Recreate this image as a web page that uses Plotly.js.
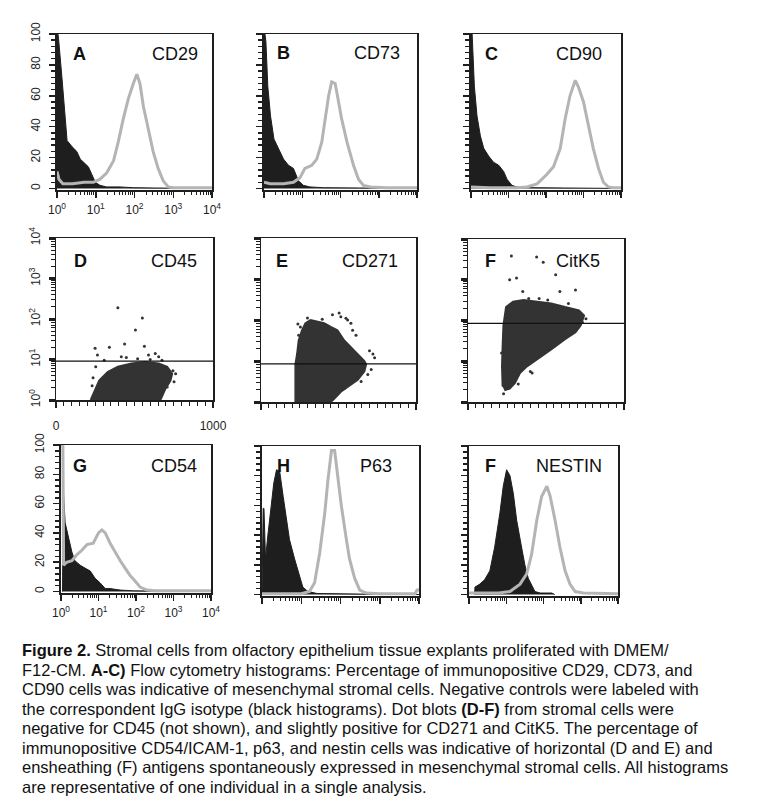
<!DOCTYPE html>
<html><head><meta charset="utf-8">
<script src="https://cdn.plot.ly/plotly-3.0.1.min.js"></script>
<style>html,body{margin:0;padding:0;background:#fff}#chart{width:760px;height:812px}</style>
</head><body><div id="chart"></div>
<script>
// ---------- DATA ----------
// Histograms: x = log10(fluorescence), y = % of max
const A_isoLog = [0, 0.04, 0.13, 0.21, 0.26, 0.39, 0.51, 0.6, 0.73, 0.81, 0.9, 0.99, 1.11, 1.28, 1.6, 1.97, 2.5, 4];
const A_isoPct = [105, 97, 71, 45, 31, 27, 24, 19, 16, 14, 9, 4, 2, 1, 1, 0.5, 0.3, 0];
const A_posLog = [0, 0.05, 0.15, 0.4, 0.7, 0.94, 1.11, 1.28, 1.46, 1.58, 1.71, 1.84, 1.97, 2.06, 2.14, 2.23, 2.36, 2.48, 2.61, 2.74, 2.87, 3.0, 3.5, 4];
const A_posPct = [11, 6, 3, 3, 4, 4, 6, 10, 18, 30, 45, 58, 68, 74, 68, 53, 38, 24, 13, 5, 1, 0.5, 0.5, 0.5];

const B_isoLog = [0, 0.05, 0.1, 0.17, 0.26, 0.38, 0.51, 0.64, 0.77, 0.9, 1.03, 1.2, 1.55, 2.5, 4];
const B_isoPct = [105, 95, 66, 47, 32, 26, 19, 15, 13, 5, 2, 1, 0.5, 0.3, 0];
const B_posLog = [0, 0.16, 0.51, 0.77, 0.94, 1.07, 1.25, 1.38, 1.51, 1.6, 1.69, 1.77, 1.86, 1.92, 2.03, 2.17, 2.34, 2.47, 2.6, 2.78, 3.2, 4];
const B_posPct = [4, 3, 3, 4, 7, 13, 15, 19, 30, 45, 60, 69, 68, 60, 45, 30, 15, 6, 2, 1, 0.5, 0.5];

const C_isoLog = [0, 0.03, 0.09, 0.16, 0.25, 0.34, 0.47, 0.6, 0.74, 0.87, 0.96, 1.09, 1.22, 1.66, 2.5, 4];
const C_isoPct = [105, 100, 66, 47, 34, 26, 21, 17, 15, 11, 6, 2, 1, 0.5, 0.3, 0];
const C_posLog = [0, 0.5, 1.22, 1.49, 1.76, 2.02, 2.2, 2.38, 2.51, 2.64, 2.78, 2.86, 3.0, 3.13, 3.26, 3.4, 3.53, 3.66, 3.8, 4];
const C_posPct = [1, 0.5, 0.5, 1, 3, 9, 14, 26, 45, 60, 70, 66, 56, 41, 26, 13, 4, 1, 0.5, 0.5];

const G_isoLog = [0.04, 0.06, 0.11, 0.2, 0.29, 0.37, 0.51, 0.64, 0.78, 0.91, 1.04, 1.18, 1.31, 1.58, 1.93, 2.5, 4];
const G_isoPct = [0, 70, 47, 36, 27, 21, 18, 16, 14, 9, 6, 2, 2, 1, 0.5, 0.3, 0];
const G_posLog = [0, 0.05, 0.07, 0.15, 0.29, 0.42, 0.55, 0.69, 0.86, 1.0, 1.09, 1.18, 1.31, 1.44, 1.58, 1.71, 1.84, 1.98, 2.11, 2.29, 2.5, 4];
const G_posPct = [100, 100, 18, 20, 21, 25, 28, 32, 33, 40, 42, 40, 33, 27, 21, 16, 11, 7, 3, 1, 0.5, 0.5];

const H_isoLog = [0, 0.03, 0.05, 0.09, 0.15, 0.24, 0.3, 0.37, 0.45, 0.54, 0.62, 0.7, 0.83, 0.96, 1.04, 1.17, 1.4, 2.5, 4];
const H_isoPct = [0, 58, 58, 24, 40, 62, 75, 84, 83, 66, 51, 37, 24, 13, 5, 2, 0.7, 0.3, 0];
const H_posLog = [0, 1.0, 1.21, 1.34, 1.47, 1.6, 1.68, 1.77, 1.85, 1.94, 2.02, 2.15, 2.23, 2.36, 2.49, 2.66, 3.0, 3.9, 3.95, 4];
const H_posPct = [0.5, 0.5, 2, 8, 28, 55, 77, 97, 97, 77, 60, 37, 24, 11, 3, 1, 0.5, 0.5, 3, 3];

const N_isoLog = [0.15, 0.16, 0.29, 0.42, 0.56, 0.69, 0.83, 0.92, 1.01, 1.1, 1.19, 1.28, 1.41, 1.5, 1.59, 1.68, 1.77, 1.91, 2.22, 2.3];
const N_isoPct = [0, 5, 7, 10, 16, 32, 55, 73, 84, 80, 68, 50, 32, 20, 11, 6, 2, 1, 1, 0];
const N_posLog = [0, 0.8, 1.1, 1.37, 1.55, 1.68, 1.82, 1.95, 2.09, 2.18, 2.31, 2.44, 2.58, 2.71, 2.85, 3.07, 4];
const N_posPct = [1, 1, 2, 7, 14, 27, 50, 66, 73, 66, 50, 32, 16, 7, 2, 1, 0.5];

// Dot plots: x = linear channel (0-1000), y = log10(fluorescence)
const D_cloudX = [221, 242, 275, 329, 394, 481, 567, 654, 708, 740, 729, 697, 665];
const D_cloudLog = [0, 0.19, 0.48, 0.69, 0.82, 0.9, 0.94, 0.9, 0.82, 0.65, 0.48, 0.28, 0];
const D_dotX = [394, 550, 506, 340, 249, 437, 563, 264, 307, 416, 448, 589, 632, 654, 762, 719, 675, 253, 708, 675, 230, 236, 745, 752, 520, 600];
const D_dotLog = [2.275, 2.025, 1.73, 1.3, 1.275, 1.38, 1.33, 1.11, 0.98, 1.07, 1.05, 1.11, 1.15, 1.07, 0.65, 0.57, 0.98, 0.82, 0.32, 0.15, 0.35, 0.55, 0.72, 0.45, 1.02, 1.0];
const D_gate = 9.1;

const E_cloudX = [222, 222, 233, 243, 265, 287, 320, 363, 407, 450, 493, 537, 580, 624, 667, 678, 667, 624, 580, 515, 472, 450];
const E_cloudLog = [0, 0.92, 1.17, 1.5, 1.75, 1.92, 2.0, 1.96, 1.92, 1.83, 1.75, 1.5, 1.33, 1.17, 1.0, 0.92, 0.75, 0.54, 0.42, 0.25, 0.08, 0];
const E_dotX = [504, 461, 254, 243, 559, 591, 613, 700, 722, 733, 711, 689, 646, 537, 428, 450, 548, 580, 515, 238, 300, 395];
const E_dotLog = [2.17, 2.125, 1.83, 1.625, 2.0, 1.75, 1.625, 1.25, 1.17, 1.08, 0.79, 0.67, 0.5, 0.33, 0.04, 0.125, 2.04, 1.92, 2.08, 1.9, 2.05, 2.02];
const E_gate = 8.5;

const F_cloudX = [222, 218, 222, 227, 244, 289, 356, 444, 533, 622, 711, 744, 722, 689, 622, 533, 444, 378, 333, 300, 267, 233];
const F_cloudLog = [0.375, 0.875, 1.375, 1.875, 2.33, 2.46, 2.5, 2.46, 2.42, 2.33, 2.25, 2.125, 1.875, 1.71, 1.54, 1.29, 1.04, 0.875, 0.71, 0.46, 0.33, 0.29];
const F_dotX = [278, 440, 482, 267, 311, 562, 351, 589, 689, 389, 456, 511, 644, 756, 733, 256, 322, 400, 411, 233, 244, 228, 215];
const F_dotLog = [3.58, 3.56, 3.43, 3.0, 3.04, 3.125, 2.71, 2.71, 2.75, 2.54, 2.54, 2.5, 2.42, 2.04, 1.96, 0.33, 0.44, 0.75, 0.71, 0.46, 0.375, 0.2, 1.2];
const F_gate = 85;

const panelLetters = ['A', 'B', 'C', 'D', 'E', 'F', 'G', 'H', 'F'];
const panelNames = ['CD29', 'CD73', 'CD90', 'CD45', 'CD271', 'CitK5', 'CD54', 'P63', 'NESTIN'];

const decadeVals = [1, 10, 100, 1000, 10000];
const decadeText = ['10<sup>0</sup>', '10<sup>1</sup>', '10<sup>2</sup>', '10<sup>3</sup>', '10<sup>4</sup>'];
const pctTicks = [0, 20, 40, 60, 80, 100];
const linTicks = [0, 1000];
const linText = ['0', '1000'];

const captionLines = [
  '<b>Figure 2.</b> Stromal cells from olfactory epithelium tissue explants proliferated with DMEM/',
  'F12-CM. <b>A-C)</b> Flow cytometry histograms: Percentage of immunopositive CD29, CD73, and',
  'CD90 cells was indicative of mesenchymal stromal cells. Negative controls were labeled with',
  'the correspondent IgG isotype (black histograms). Dot blots <b>(D-F)</b> from stromal cells were',
  'negative for CD45 (not shown), and slightly positive for CD271 and CitK5. The percentage of',
  'immunopositive CD54/ICAM-1, p63, and nestin cells was indicative of horizontal (D and E) and',
  'ensheathing (F) antigens spontaneously expressed in mesenchymal stromal cells. All histograms',
  'are representative of one individual in a single analysis.'
];

// ---------- LAYOUT GEOMETRY (pixels) ----------
const W = 760, Hh = 812;
// [left, right, top, bottom]
const boxes = [
  [57, 212, 34, 190], [264, 417, 34, 190], [471, 621, 34, 190],
  [56, 213, 238, 400], [261, 416, 238, 402], [468, 624, 239, 402],
  [61, 211, 445, 593], [262, 419, 446, 596], [469, 618, 446, 596]
];
const letterPos = [[71, 54], [275, 53], [483, 54], [72, 261], [274, 261], [483, 261], [71, 466], [275, 466], [483, 466]];
const namePos = [[200, 54], [402, 53], [604, 54], [199, 261], [400, 261], [602, 261], [199, 466], [394, 466], [604, 466]];

const FONT = 'Liberation Sans, Arial, Helvetica, sans-serif';
const INK = '#1e1e1e';
const GRAY = '#b4b4b4';

const minorLog = [];
for (let k = 0; k < 4; k++) for (let m = 2; m <= 9; m++) minorLog.push(m * Math.pow(10, k));

const pw = v => Math.pow(10, v);
const dx = p => p / W;
const dy = p => 1 - p / Hh;

const layout = {
  width: W, height: Hh,
  margin: {l: 0, r: 0, t: 0, b: 0},
  paper_bgcolor: '#fff', plot_bgcolor: '#fff',
  showlegend: false,
  annotations: [],
  font: {family: FONT, color: INK}
};

function axBase() {
  return {showline: true, mirror: true, linecolor: INK, linewidth: 1.5, showgrid: false, zeroline: false,
    ticks: 'outside', tickcolor: INK, tickwidth: 1.5, tickfont: {family: FONT, size: 12, color: INK}, fixedrange: true};
}

const traces = [];
const histPanels = [
  [A_isoLog, A_isoPct, A_posLog, A_posPct, true],
  [B_isoLog, B_isoPct, B_posLog, B_posPct, false],
  [C_isoLog, C_isoPct, C_posLog, C_posPct, false],
  null, null, null,
  [G_isoLog, G_isoPct, G_posLog, G_posPct, true],
  [H_isoLog, H_isoPct, H_posLog, H_posPct, false],
  [N_isoLog, N_isoPct, N_posLog, N_posPct, false]
];
const dotPanels = [null, null, null,
  [D_cloudX, D_cloudLog, D_dotX, D_dotLog, D_gate, true],
  [E_cloudX, E_cloudLog, E_dotX, E_dotLog, E_gate, false],
  [F_cloudX, F_cloudLog, F_dotX, F_dotLog, F_gate, false]
];

for (let i = 0; i < 9; i++) {
  const n = i + 1;
  const xa = 'xaxis' + (n === 1 ? '' : n), ya = 'yaxis' + (n === 1 ? '' : n);
  const xr = 'x' + (n === 1 ? '' : n), yr = 'y' + (n === 1 ? '' : n);
  const b = boxes[i];
  const X = axBase(), Y = axBase();
  X.domain = [dx(b[0]), dx(b[1])];
  Y.domain = [dy(b[3]), dy(b[2])];
  X.anchor = yr; Y.anchor = xr;
  if (histPanels[i]) {
    const [il, ip, pl, pp, lab] = histPanels[i];
    X.type = 'log'; X.range = [0, 4];
    X.tickmode = 'array'; X.tickvals = decadeVals; X.ticklen = 6;
    if (lab) { X.ticktext = decadeText; X.showticklabels = true; X.ticklabelstandoff = 2; }
    else { X.showticklabels = false; }
    X.minor = {tickmode: 'array', tickvals: minorLog, ticks: 'outside', ticklen: 3, tickwidth: 1, tickcolor: INK};
    Y.range = [-1, 100];
    Y.tickmode = 'array'; Y.tickvals = pctTicks; Y.ticklen = 6; Y.tickangle = -90;
    Y.showticklabels = lab; if (lab) Y.ticklabelstandoff = 4; Y.linewidth = 2;
    Y.minor = {dtick: 4, tick0: 0, ticks: 'outside', ticklen: 4, tickwidth: 1.5, tickcolor: INK};
    traces.push({type: 'scatter', mode: 'lines', xaxis: xr, yaxis: yr, x: il.map(pw), y: ip,
      fill: 'tozeroy', fillcolor: INK, line: {color: INK, width: 1}, hoverinfo: 'skip'});
    traces.push({type: 'scatter', mode: 'lines', xaxis: xr, yaxis: yr, x: pl.map(pw), y: pp,
      line: {color: GRAY, width: 3}, hoverinfo: 'skip'});
  } else {
    const [cx, cl, px, pl, gate, lab] = dotPanels[i];
    X.range = [0, 1000];
    X.tickmode = 'array'; X.tickvals = linTicks; X.ticklen = 6;
    if (lab) { X.ticktext = linText; X.showticklabels = true; X.ticklabelstandoff = 8; }
    else { X.showticklabels = false; }
    X.minor = {dtick: 50, tick0: 0, ticks: 'outside', ticklen: 4, tickwidth: 1, tickcolor: INK};
    Y.type = 'log'; Y.range = [0, 4];
    Y.tickmode = 'array'; Y.tickvals = decadeVals; Y.ticklen = 6; Y.tickwidth = 3;
    Y.tickangle = -90;
    if (lab) { Y.ticktext = decadeText; Y.showticklabels = true; Y.ticklabelstandoff = 4; }
    else { Y.showticklabels = false; }
    Y.minor = {tickmode: 'array', tickvals: minorLog, ticks: 'outside', ticklen: 4, tickwidth: 1, tickcolor: INK};
    traces.push({type: 'scatter', mode: 'lines', xaxis: xr, yaxis: yr, x: cx, y: cl.map(pw),
      fill: 'toself', fillcolor: '#333', line: {color: '#333', width: 2}, hoverinfo: 'skip'});
    traces.push({type: 'scatter', mode: 'markers', xaxis: xr, yaxis: yr, x: px, y: pl.map(pw),
      marker: {color: '#333', size: 3}, hoverinfo: 'skip'});
    traces.push({type: 'scatter', mode: 'lines', xaxis: xr, yaxis: yr, x: [0, 1000], y: [gate, gate],
      line: {color: '#111', width: 1.3}, hoverinfo: 'skip'});
  }
  layout[xa] = X; layout[ya] = Y;
  layout.annotations.push({xref: 'paper', yref: 'paper', x: dx(letterPos[i][0]), y: dy(letterPos[i][1]),
    xanchor: 'left', yanchor: 'middle', showarrow: false, text: '<b>' + panelLetters[i] + '</b>',
    font: {family: FONT, size: 18, color: '#111'}});
  layout.annotations.push({xref: 'paper', yref: 'paper', x: dx(namePos[i][0]), y: dy(namePos[i][1]),
    xanchor: 'right', yanchor: 'middle', showarrow: false, text: panelNames[i],
    font: {family: FONT, size: 18, color: '#111'}});
}

captionLines.forEach((t, k) => {
  layout.annotations.push({xref: 'paper', yref: 'paper', x: dx(20), y: dy(650 + k * 19.5),
    xanchor: 'left', yanchor: 'middle', align: 'left', showarrow: false, text: t,
    font: {family: FONT, size: 16.5, color: '#111'}});
});

Plotly.newPlot('chart', traces, layout, {staticPlot: true, displayModeBar: false});
</script></body></html>
